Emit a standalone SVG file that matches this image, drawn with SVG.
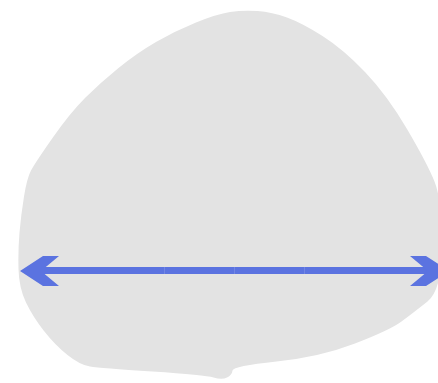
<svg xmlns="http://www.w3.org/2000/svg" width="438" height="383" viewBox="0 0 438 383">
  <style>
    .blob { fill: #e3e3e3; stroke: none; }
    .conn { fill: #5b73e0; stroke: none; }
    .seam { stroke: #7186e4; stroke-width: 1; }
  </style>
  <rect width="438" height="383" fill="#ffffff"/>
  <g id="region">
    <path class="blob" d="M230,12 Q243,10 257.5,11 Q272,12 287,17.5 Q302,23 322.5,36 Q343,49 365,72 Q387,95 407,129 Q427,163 434.5,181.5 Q442,200 442,245 Q442,290 427.5,301.5 Q413,313 401.5,321.5 Q390,330 355,343.5 Q320,357 276.5,361.5 Q233,366 232.5,370.5 Q232,375 227,377.5 Q222,380 213.5,377.5 Q205,375 152.5,371.5 Q100,368 90,366.5 Q80,365 67.5,355 Q55,345 44,331 Q33,317 26,302.5 Q19,288 18.5,269 Q18,250 19.5,232.5 Q21,215 24,196.5 Q27,178 31,170.5 Q35,163 52.5,138 Q70,113 85,98 Q100,83 118.5,68 Q137,53 156,42 Q175,31 196,22.5 Q217,14 230,12 Z"/>
  </g>
  <g id="connectors">
    <rect class="conn" x="38" y="267" width="394" height="7"/>
    <line class="seam" x1="164.5" y1="267" x2="164.5" y2="274"/>
    <line class="seam" x1="234.5" y1="267" x2="234.5" y2="274"/>
    <line class="seam" x1="304.5" y1="267" x2="304.5" y2="274"/>
    <polygon class="conn" points="20,271 43,256 59,256 41,271 59,286 43,286"/>
    <polygon class="conn" points="449,271 426,256 410,256 428,271 410,286 426,286"/>
  </g>
</svg>
